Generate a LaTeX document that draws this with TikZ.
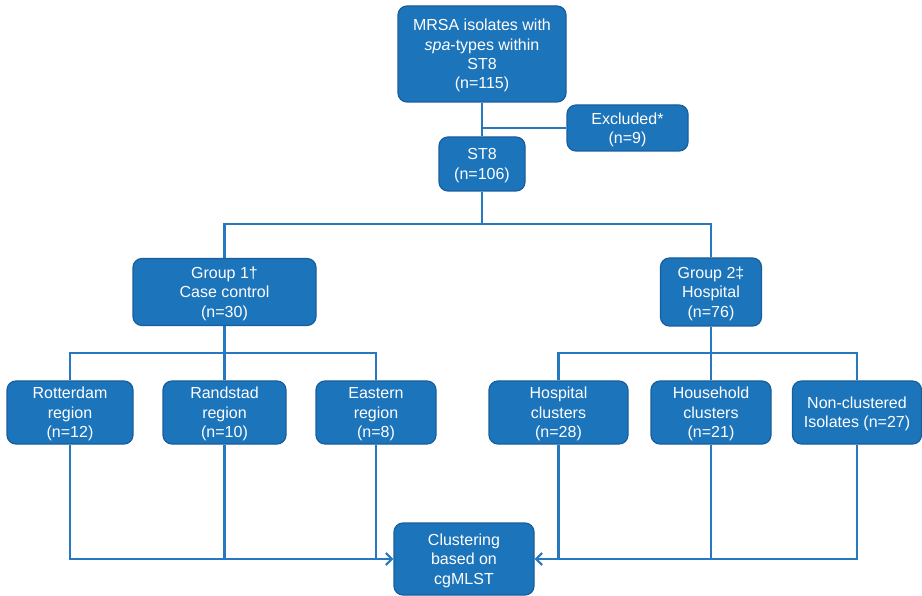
\documentclass[tikz,border=0pt]{standalone}
\usepackage{fontspec}
\setmainfont{Liberation Sans}
\usetikzlibrary{arrows.meta}
\definecolor{boxfill}{RGB}{28,116,187}
\definecolor{boxdraw}{RGB}{24,94,158}
\definecolor{linkc}{RGB}{38,120,192}
\tikzset{
  box/.style={draw=boxdraw, line width=1.2pt, fill=boxfill, rounded corners=9pt,
    text=white, align=center, inner sep=0pt, font=\fontsize{16}{19.3}\selectfont,
    text depth=-2pt},
  link/.style={draw=linkc, line width=2.5pt},
  arr/.style={link, -{Straight Barb[length=6pt,width=12pt,line width=2.2pt]}}
}
\begin{document}
\begin{tikzpicture}[x=1pt,y=-1pt]
\useasboundingbox (0,0) rectangle (922,596);
\node[box, minimum width=168, minimum height=96] (mrsa) at (482,54) {MRSA isolates with\\\textit{spa}-types within\\ST8\\(n=115)};
\node[box, minimum width=121, minimum height=46] (excl) at (627.5,128) {Excluded*\\(n=9)};
\node[box, minimum width=86, minimum height=54] (st8) at (482,164) {ST8\\(n=106)};
\node[box, minimum width=183, minimum height=67] (g1) at (224.5,292) {Group 1†\\Case control\\(n=30)};
\node[box, minimum width=101, minimum height=68] (g2) at (711,292) {Group 2‡\\Hospital\\(n=76)};
\node[box, minimum width=126, minimum height=63] (rot) at (70,412.5) {Rotterdam\\region\\(n=12)};
\node[box, minimum width=123, minimum height=63] (rand) at (224.5,412.5) {Randstad\\region\\(n=10)};
\node[box, minimum width=120, minimum height=63] (east) at (376,412.5) {Eastern\\region\\(n=8)};
\node[box, minimum width=139, minimum height=63] (hosp) at (558.5,412.5) {Hospital\\clusters\\(n=28)};
\node[box, minimum width=120, minimum height=63] (house) at (711,412.5) {Household\\clusters\\(n=21)};
\node[box, minimum width=129, minimum height=63] (noncl) at (857,412.5) {Non-clustered\\Isolates (n=27)};
\node[box, minimum width=140, minimum height=72] (clus) at (464,559) {Clustering\\based on\\cgMLST};
\coordinate (j1) at (482,224);
\coordinate (j2) at (224.5,353);
\coordinate (j3) at (711,353);
\draw[link] (mrsa.south) -- (st8.north);
\draw[link] (mrsa.south |- excl.west) -- (excl.west);
\draw[link] (st8.south) -- (j1);
\draw[link] (j1) -| (g1.north);
\draw[link] (j1) -| (g2.north);
\draw[link] (g1.south) -- (rand.north);
\draw[link] (j2) -| (rot.north);
\draw[link] (j2) -| (east.north);
\draw[link] (g2.south) -- (house.north);
\draw[link] (j3) -| (hosp.north);
\draw[link] (j3) -| (noncl.north);
\draw[arr] (rot.south) |- (clus.west);
\draw[link] (rand.south) -- (rand.south |- clus.west);
\draw[link] (east.south) -- (east.south |- clus.west);
\draw[arr] (noncl.south) |- (clus.east);
\draw[link] (hosp.south) -- (hosp.south |- clus.east);
\draw[link] (house.south) -- (house.south |- clus.east);
\end{tikzpicture}
\end{document}
